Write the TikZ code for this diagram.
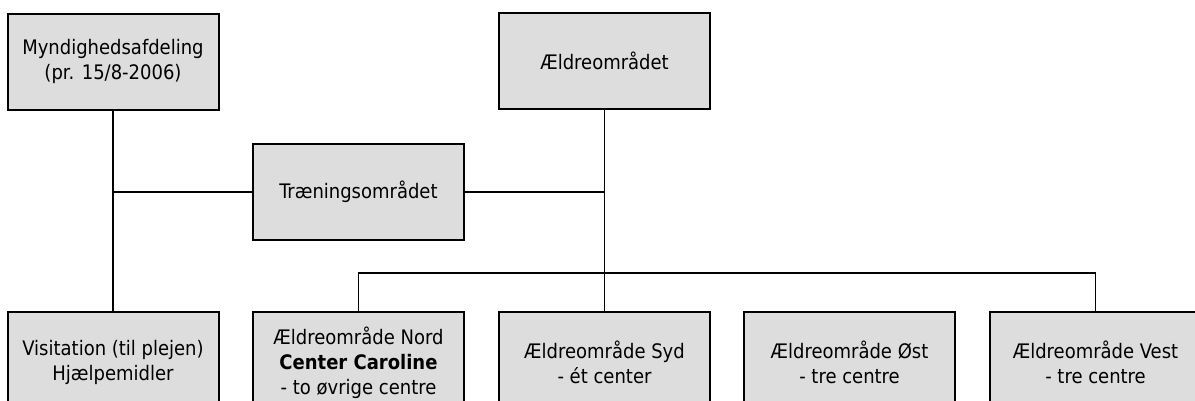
\documentclass[tikz,border=0pt]{standalone}
\usepackage{fontspec}
\setmainfont{DejaVu Sans Condensed}
\definecolor{boxfill}{HTML}{DDDDDD}
\begin{document}
\begin{tikzpicture}[x=1pt,y=-1pt,
  orgbox/.style={draw=black, fill=boxfill, line width=2pt, inner sep=0pt,
    minimum width=211pt, align=center,
    font=\fontsize{20}{25}\selectfont},
  tall/.style={orgbox, minimum height=96pt},
  low/.style={orgbox, minimum height=102pt},
  link/.style={draw=black, line width=1.8pt}]
  \useasboundingbox (0,0) rectangle (1195,400);
  \clip (0,0) rectangle (1195,400);

  % upper levels
  \node[tall] (mynd)  at (113,61.5)  {Myndighedsafdeling\\(pr. 15/8-2006)};
  \node[tall] (aeld)  at (604.5,61)  {Ældreområdet};
  \node[tall] (traen) at (358.5,192) {Træningsområdet};

  % lower level
  \node[low] (visit) at (113,362.5)    {Visitation (til plejen)\\Hjælpemidler};
  \node[low] (nord)  at (358.5,362.5)  {Ældreområde Nord\\\textbf{Center Caroline}\\- to øvrige centre};
  \node[low] (syd)   at (604.5,362.5)  {Ældreområde Syd\\- ét center};
  \node[low] (oest)  at (849.5,362.5)  {Ældreområde Øst\\- tre centre};
  \node[low] (vest)  at (1095.5,362.5) {Ældreområde Vest\\- tre centre};

  \coordinate (bus) at (604.5,273);

  % connectors
  \draw[link] (mynd.south) -- (visit.north);
  \draw[link] (aeld.south) -- (syd.north);
  \draw[link] (traen.west) -- (traen.west -| mynd.south);
  \draw[link] (traen.east) -- (traen.east -| aeld.south);
  \draw[link] (nord.north) -- (nord.north |- bus) -- (vest.north |- bus) -- (vest.north);
\end{tikzpicture}
\end{document}
